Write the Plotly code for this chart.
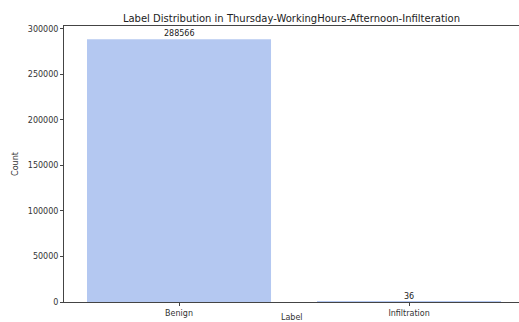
import plotly.graph_objects as go

categories = ["Benign", "Infiltration"]
counts = [288566, 36]
title_text = "Label Distribution in Thursday-WorkingHours-Afternoon-Infilteration"
y_ticks = [0, 50000, 100000, 150000, 200000, 250000, 300000]

bar_color = "#b4c8f1"
axis_color = "#444444"
font_family = "DejaVu Sans"

fig = go.Figure()
fig.add_trace(go.Bar(
    x=categories, y=counts,
    marker=dict(color=bar_color, line=dict(width=0)),
    width=0.8,
    hoverinfo="x+y",
))

for cat, cnt in zip(categories, counts):
    fig.add_annotation(x=cat, y=cnt, xref="x", yref="y", text=str(cnt),
                       showarrow=False, yanchor="bottom", yshift=-1,
                       font=dict(family=font_family, size=8, color="#222222"))

fig.update_layout(
    width=519, height=322,
    margin=dict(l=64, r=0, t=26, b=20),
    paper_bgcolor="white", plot_bgcolor="white",
    font=dict(family=font_family, size=8, color="#333333"),
    showlegend=False,
    title=dict(text=title_text, x=0.5, xref="paper", xanchor="center",
               y=1, yref="paper", yanchor="bottom", pad=dict(b=4),
               font=dict(family=font_family, size=10, color="#222222")),
    bargap=0.2,
)
fig.update_xaxes(
    type="category", range=[-0.5, 1.478],
    showline=True, linecolor=axis_color, linewidth=1, mirror=True,
    ticks="outside", ticklen=3, tickcolor=axis_color,
    showgrid=False, zeroline=False, automargin=False,
    tickfont=dict(family=font_family, size=8, color="#333333"),
)
fig.update_yaxes(
    range=[0, counts[0] * 1.05], tickvals=y_ticks,
    ticktext=[str(v) for v in y_ticks],
    showline=True, linecolor=axis_color, linewidth=1,
    ticks="outside", ticklen=3, tickcolor=axis_color,
    showgrid=False, zeroline=False, automargin=False,
    tickfont=dict(family=font_family, size=8, color="#333333"),
    title=dict(text="Count", standoff=8, font=dict(family=font_family, size=8, color="#333333")),
)
fig.add_annotation(text="Label", xref="paper", yref="paper", x=0.5, y=0,
                   yshift=-9, yanchor="top", showarrow=False,
                   font=dict(family=font_family, size=8, color="#333333"))

fig.write_html("out.html", config={"displayModeBar": False},
               post_script="document.body.style.margin='0';document.body.style.overflow='hidden';")
